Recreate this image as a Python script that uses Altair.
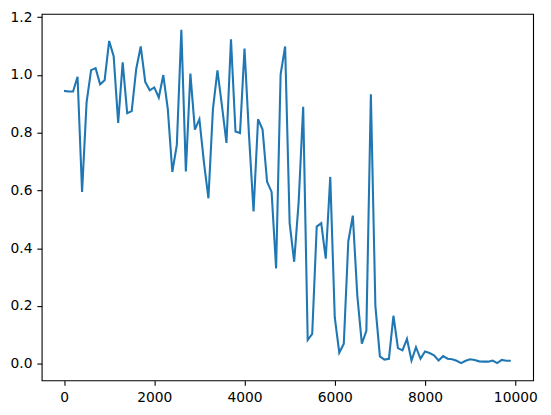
import altair as alt
import pandas as pd

steps = list(range(0, 10000, 100))
values = [
    0.945, 0.943, 0.943, 0.994, 0.595, 0.905, 1.017, 1.024, 0.968, 0.982,
    1.118, 1.065, 0.834, 1.044, 0.868, 0.875, 1.021, 1.099, 0.976, 0.947,
    0.957, 0.922, 1.000, 0.882, 0.664, 0.758, 1.157, 0.666, 1.005, 0.811,
    0.847, 0.698, 0.573, 0.882, 1.016, 0.893, 0.765, 1.124, 0.804, 0.799,
    1.092, 0.790, 0.527, 0.847, 0.811, 0.630, 0.595, 0.330, 1.002, 1.099,
    0.487, 0.353, 0.561, 0.890, 0.082, 0.103, 0.475, 0.487, 0.364, 0.647,
    0.160, 0.038, 0.069, 0.424, 0.513, 0.235, 0.069, 0.114, 0.933, 0.200,
    0.025, 0.014, 0.017, 0.166, 0.054, 0.046, 0.086, 0.011, 0.057, 0.017,
    0.042, 0.037, 0.029, 0.011, 0.026, 0.017, 0.015, 0.010, 0.002, 0.010,
    0.015, 0.013, 0.008, 0.007, 0.007, 0.011, 0.002, 0.013, 0.010, 0.010,
]
x_ticks = [0, 2000, 4000, 6000, 8000, 10000]
y_ticks = [0.0, 0.2, 0.4, 0.6, 0.8, 1.0, 1.2]

df = pd.DataFrame({"step": steps, "value": values})

chart = (
    alt.Chart(df)
    .mark_line(color="#1f77b4", strokeWidth=2.1)
    .encode(
        x=alt.X(
            "step:Q",
            scale=alt.Scale(domain=[-495, 10395], nice=False, zero=False),
            axis=alt.Axis(values=x_ticks, format="d", title=None),
        ),
        y=alt.Y(
            "value:Q",
            scale=alt.Scale(domain=[-0.058, 1.212], nice=False, zero=False),
            axis=alt.Axis(values=y_ticks, format=".1f", title=None),
        ),
    )
    .properties(
        width=496,
        height=370,
        autosize=alt.AutoSizeParams(type="none"),
        padding={"left": 34, "top": 4, "right": 10, "bottom": 30},
    )
    .configure_view(stroke="black", strokeWidth=1.1)
    .configure_axis(
        grid=False,
        domain=False,
        ticks=True,
        tickColor="black",
        tickSize=4.9,
        tickWidth=1.1,
        labelFont="DejaVu Sans",
        labelFontSize=13.9,
        labelColor="black",
        labelPadding=4.9,
    )
)

chart.save("out.html", embed_options={"renderer": "svg", "actions": False})
